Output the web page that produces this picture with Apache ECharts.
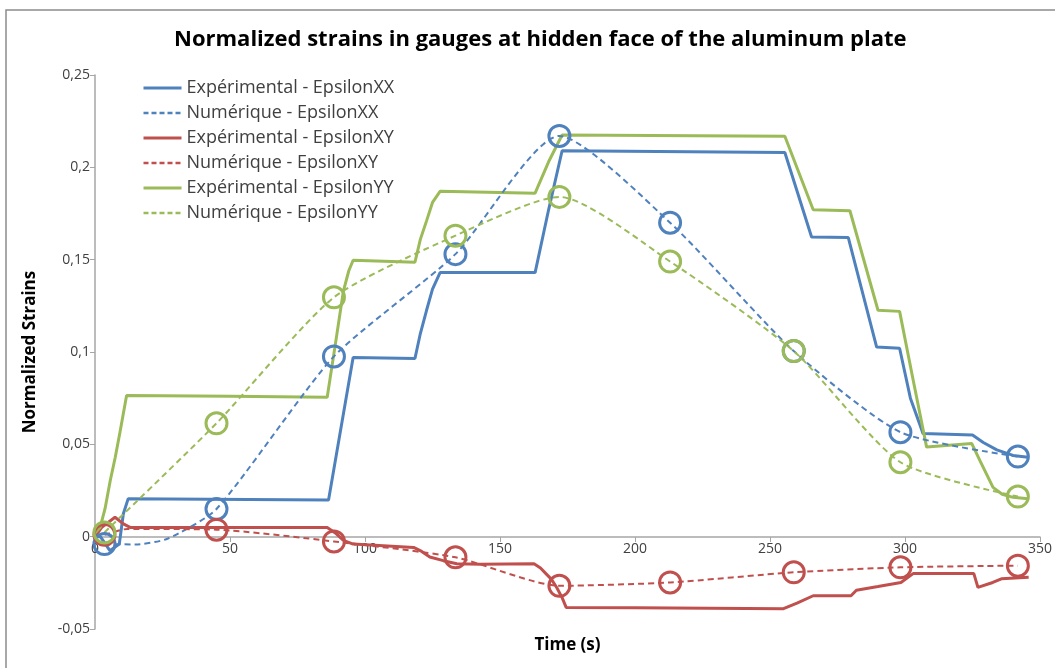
<!DOCTYPE html>
<html>
<head>
<meta charset="utf-8">
<script src="https://cdn.jsdelivr.net/npm/echarts@6/dist/echarts.min.js"></script>
<style>
  html, body { margin: 0; padding: 0; background: #fff; }
  #main { width: 1055px; height: 668px; }
</style>
</head>
<body>
<div id="main"></div>
<script>
// experimental gauges (time in s, normalized strain)
const expXX_t = [0, 2, 5.5, 9, 10.5, 12.3, 86.5, 91, 95.6, 118.5, 120.5, 122.8, 125, 127.8, 163, 168, 173, 255.5, 265.4, 279, 289.5, 298, 302, 306.7, 325, 329, 334, 340, 345.6];
const expXX_v = [0, 0, -0.0076, -0.004, 0.0124, 0.0206, 0.0198, 0.058, 0.097, 0.0965, 0.11, 0.1226, 0.134, 0.143, 0.143, 0.177, 0.209, 0.208, 0.1623, 0.162, 0.1027, 0.102, 0.075, 0.0558, 0.055, 0.051, 0.047, 0.044, 0.043];

const expXY_t = [0, 2.5, 7.4, 10.5, 13, 50, 86, 89, 92, 95.6, 118, 121, 124, 129, 134, 142.6, 162.6, 165, 167, 169, 171, 173, 174.5, 200, 255, 260, 266, 280, 282, 290, 298.5, 303, 325.5, 327, 332.5, 335.7, 345.8];
const expXY_v = [0, 0.005, 0.0105, 0.0069, 0.005, 0.005, 0.0049, 0.002, -0.002, -0.004, -0.0058, -0.008, -0.011, -0.013, -0.0147, -0.015, -0.0147, -0.017, -0.02, -0.023, -0.0275, -0.033, -0.0383, -0.0385, -0.039, -0.036, -0.032, -0.032, -0.029, -0.027, -0.0248, -0.02, -0.02, -0.0275, -0.0248, -0.0228, -0.022];

const expYY_t = [0, 1.9, 3.7, 5.6, 7.5, 9.3, 11.7, 50, 86, 89, 92, 94, 95.6, 118.5, 120.5, 122.8, 125, 127.8, 163, 168, 173, 255.5, 266, 279.6, 290, 298, 303, 308, 324.7, 327.8, 332.6, 336, 340, 345.6];
const expYY_v = [0.002, 0.005, 0.015, 0.03, 0.043, 0.057, 0.0765, 0.076, 0.0755, 0.104, 0.133, 0.144, 0.1497, 0.1486, 0.161, 0.171, 0.181, 0.187, 0.186, 0.203, 0.2175, 0.2168, 0.177, 0.1765, 0.1226, 0.122, 0.085, 0.0485, 0.0505, 0.041, 0.0267, 0.023, 0.0213, 0.0205];

// numerical model, circles at these times
const num_t = [3.5, 45, 88.5, 133.5, 172, 213, 258.8, 298.3, 341.8];
const numXX = [-0.004, 0.015, 0.0976, 0.153, 0.217, 0.17, 0.1005, 0.0566, 0.0434];
const numXY = [0.001, 0.0038, -0.0026, -0.0112, -0.0266, -0.0248, -0.0193, -0.0166, -0.0157];
const numYY = [0.0023, 0.0614, 0.1296, 0.163, 0.184, 0.149, 0.1005, 0.0403, 0.0217];

// points of the dashed curves between circles (no marker)
const numXX_mid = [[15, -0.0042], [27, -0.001]];
const numXY_mid = [[12, 0.0042]];

const names = [
  "Expérimental - EpsilonXX",
  "Numérique - EpsilonXX",
  "Expérimental - EpsilonXY",
  "Numérique - EpsilonXY",
  "Expérimental - EpsilonYY",
  "Numérique - EpsilonYY",
];
const BLUE = "#4F81BD", RED = "#C0504D", GREEN = "#9BBB59";
const FONT = "Open Sans";

function zip(t, v) {
  return t.map(function (x, i) { return [x, v[i]]; });
}
function numData(v, mid) {
  const pts = num_t.map(function (x, i) { return { value: [x, v[i]] }; });
  (mid || []).forEach(function (p) { pts.push({ value: p, symbol: "none" }); });
  pts.sort(function (a, b) { return a.value[0] - b.value[0]; });
  return pts;
}

function expSeries(name, color, data) {
  return {
    name: name,
    type: "line",
    data: data,
    symbol: "none",
    lineStyle: { color: color, width: 3 },
    itemStyle: { color: color },
    z: 2,
  };
}
function numSeries(name, color, data) {
  return {
    name: name,
    type: "line",
    data: data,
    smooth: 0.22,
    symbol: "circle",
    symbolSize: 21,
    showAllSymbol: true,
    lineStyle: { color: color, width: 2, type: [6, 4] },
    itemStyle: { color: "rgba(0,0,0,0)", borderColor: color, borderWidth: 3 },
    z: 3,
  };
}

const myChart = echarts.init(document.getElementById("main"));
myChart.setOption({
  animation: false,
  backgroundColor: "#fff",
  title: {
    text: "Normalized strains in gauges at hidden face of the aluminum plate",
    left: 169,
    top: 24,
    textStyle: { fontFamily: FONT, fontSize: 22, fontWeight: "bold", color: "#000" },
  },
  graphic: [
    {
      type: "rect",
      shape: { x: 6, y: 10, width: 1100, height: 700 },
      style: { fill: "none", stroke: "#8c8c8c", lineWidth: 1.5 },
      silent: true,
    },
  ],
  legend: {
    orient: "vertical",
    left: 137,
    top: 74,
    itemWidth: 38,
    itemHeight: 14,
    itemGap: 7,
    textStyle: { fontFamily: FONT, fontSize: 18, color: "#404040" },
    itemStyle: { opacity: 0 },
    data: [
      { name: names[0], lineStyle: { color: BLUE, width: 3, type: "solid" } },
      { name: names[1], lineStyle: { color: BLUE, width: 2.5, type: [5, 3] } },
      { name: names[2], lineStyle: { color: RED, width: 3, type: "solid" } },
      { name: names[3], lineStyle: { color: RED, width: 2.5, type: [5, 3] } },
      { name: names[4], lineStyle: { color: GREEN, width: 3, type: "solid" } },
      { name: names[5], lineStyle: { color: GREEN, width: 2.5, type: [5, 3] } },
    ],
  },
  grid: { left: 95, right: 15, top: 75, bottom: 39, outerBoundsMode: "none", containLabel: false },
  xAxis: {
    type: "value",
    min: 0,
    max: 350,
    interval: 50,
    position: "bottom",
    offset: -92,
    name: "Time (s)",
    nameLocation: "middle",
    nameGap: 100,
    nameTextStyle: { fontFamily: FONT, fontSize: 17, fontWeight: "bold", color: "#000" },
    axisLine: { onZero: false, lineStyle: { color: "#a6a6a6", width: 1.5 } },
    axisTick: { show: true, length: 5, lineStyle: { color: "#a6a6a6" } },
    axisLabel: { fontFamily: FONT, fontSize: 14, color: "#404040", margin: 5 },
    splitLine: { show: false },
  },
  yAxis: {
    type: "value",
    min: -0.05,
    max: 0.25,
    interval: 0.05,
    name: "Normalized Strains",
    nameLocation: "middle",
    nameGap: 56,
    nameTextStyle: { fontFamily: FONT, fontSize: 17, fontWeight: "bold", color: "#000" },
    axisLine: { show: true, lineStyle: { color: "#a6a6a6", width: 1.5 } },
    axisTick: { show: true, length: 5, lineStyle: { color: "#a6a6a6" } },
    axisLabel: {
      fontFamily: FONT,
      fontSize: 14,
      color: "#404040",
      margin: 5,
      formatter: function (v) { return String(+v.toFixed(2)).replace(".", ","); },
    },
    splitLine: { show: false },
  },
  series: [
    expSeries(names[0], BLUE, zip(expXX_t, expXX_v)),
    numSeries(names[1], BLUE, numData(numXX, numXX_mid)),
    expSeries(names[2], RED, zip(expXY_t, expXY_v)),
    numSeries(names[3], RED, numData(numXY, numXY_mid)),
    expSeries(names[4], GREEN, zip(expYY_t, expYY_v)),
    numSeries(names[5], GREEN, numData(numYY)),
  ],
});
</script>
</body>
</html>
